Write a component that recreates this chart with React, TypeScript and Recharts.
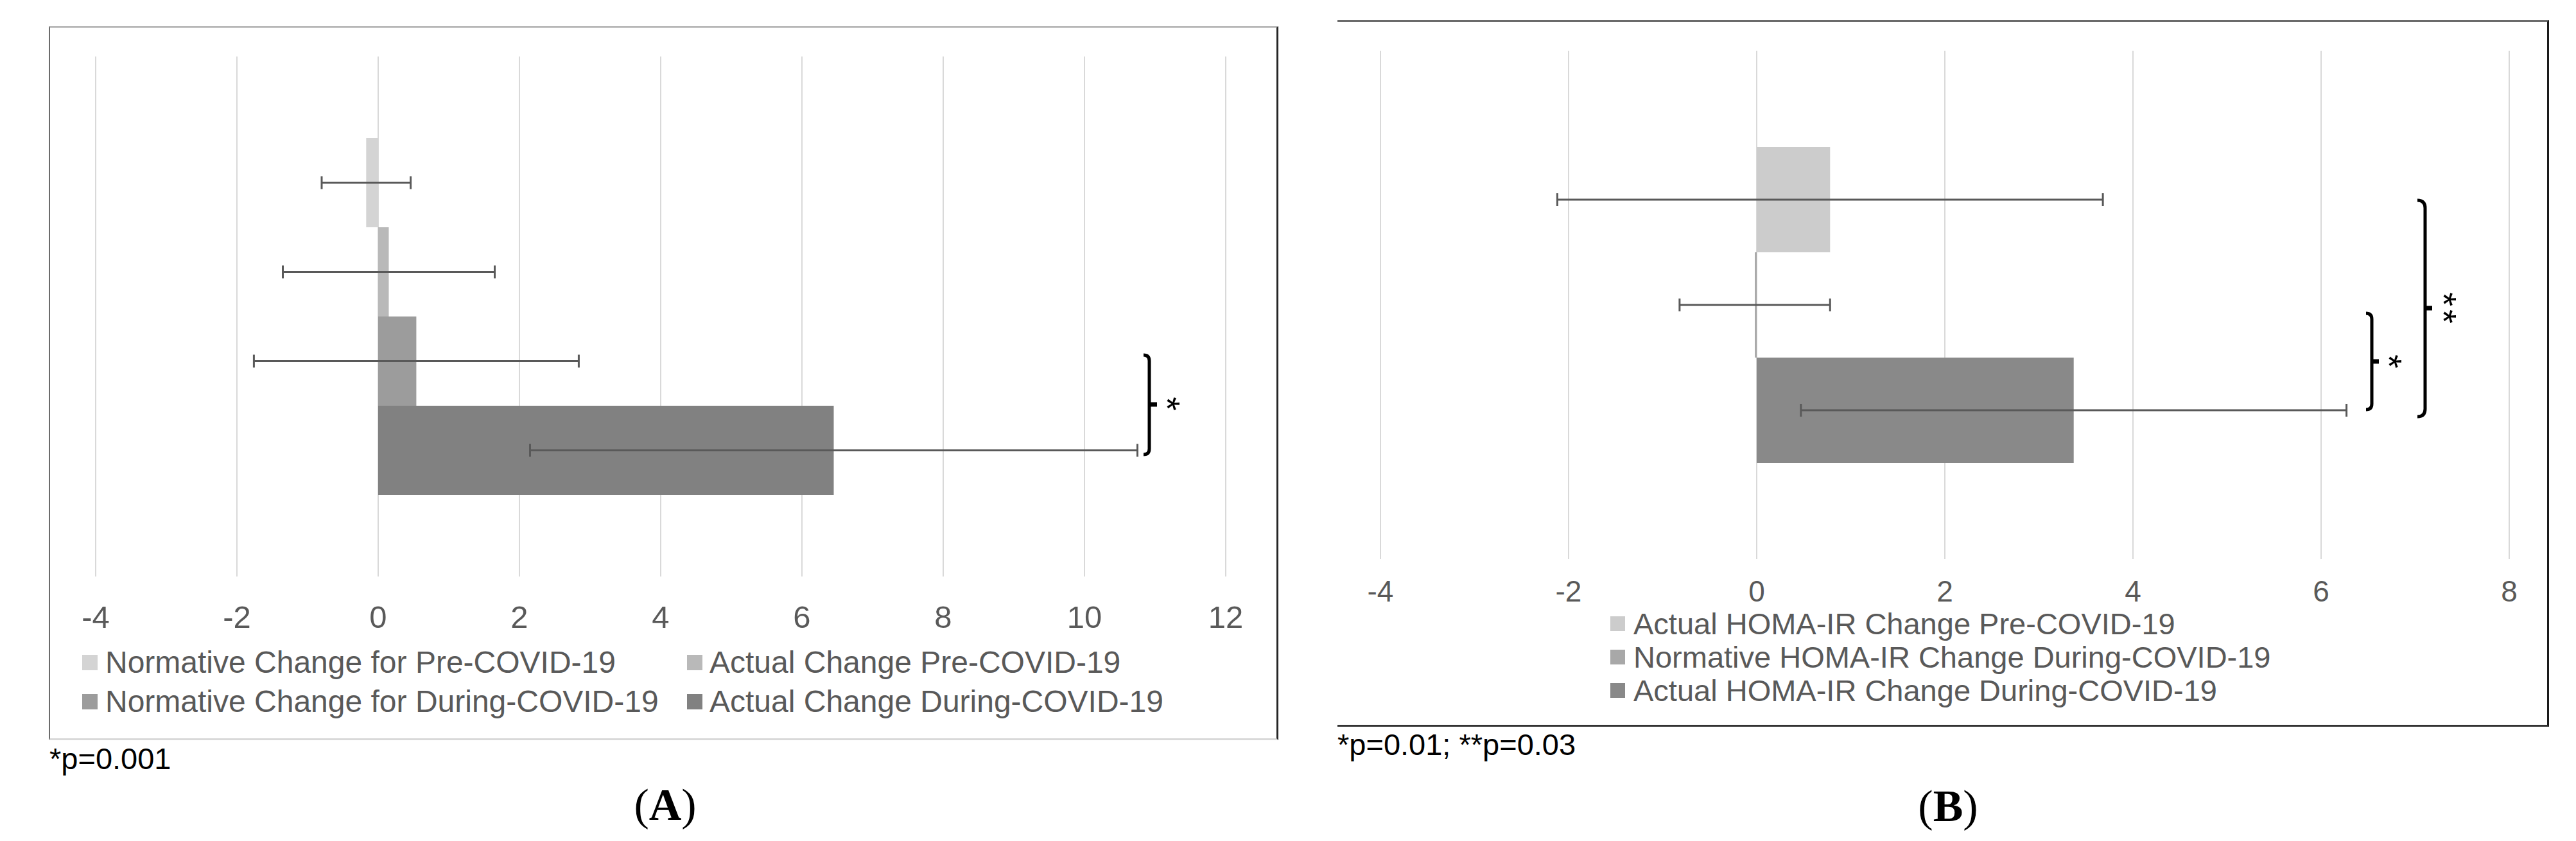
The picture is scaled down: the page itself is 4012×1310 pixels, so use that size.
import React from 'react';
import { BarChart, Bar, XAxis, YAxis, CartesianGrid, ErrorBar, Legend } from 'recharts';

// ---------------- data ----------------
const A_SERIES = [
  'Normative Change for Pre-COVID-19',
  'Actual Change Pre-COVID-19',
  'Normative Change for During-COVID-19',
  'Actual Change During-COVID-19',
];
const A_VALUES = [-0.17, 0.15, 0.54, 6.45];
const A_SD = [0.63, 1.5, 2.3, 4.3];
const A_COLORS = ['#d4d4d4', '#b9b9b9', '#9c9c9c', '#818181'];
const A_TICKS = [-4, -2, 0, 2, 4, 6, 8, 10, 12];

const B_SERIES = [
  'Actual HOMA-IR Change Pre-COVID-19',
  'Normative HOMA-IR Change During-COVID-19',
  'Actual HOMA-IR Change During-COVID-19',
];
const B_VALUES = [0.78, -0.02, 3.37];
const B_SD = [2.9, 0.8, 2.9];
const B_COLORS = ['#cccccc', '#a8a8a8', '#898989'];
const B_TICKS = [-4, -2, 0, 2, 4, 6, 8];

const FOOT_A = '*p=0.001';
const FOOT_B = '*p=0.01; **p=0.03';

// ---------------- styles ----------------
const SANS = '"Liberation Sans", Arial, Helvetica, sans-serif';
const SERIF = '"Liberation Serif", "Times New Roman", serif';
const TEXT_GRAY = '#595959';
const GRID = '#d9d9d9';
const ERR = '#595959';

function buildRow(name: string, values: number[], sds: number[]) {
  const row: Record<string, any> = { name };
  values.forEach((v, i) => {
    row[`v${i}`] = v;
    row[`e${i}`] = sds[i];
  });
  return [row];
}

const dataA = buildRow('A', A_VALUES, A_SD);
const dataB = buildRow('B', B_VALUES, B_SD);

type LegendPos = { mx: number; tx: number; cy: number };

function makeLegend(names: string[], positions: LegendPos[], fontSize: number, marker: number) {
  return (props: any) => {
    const payload = props.payload || [];
    return (
      <div style={{ position: 'relative', width: '100%', height: '100%' }}>
        {payload.map((p: any) => {
          const idx = names.indexOf(p.value);
          const pos = positions[idx];
          if (!pos) return null;
          return (
            <React.Fragment key={p.value}>
              <div
                style={{
                  position: 'absolute',
                  left: pos.mx,
                  top: pos.cy - marker / 2,
                  width: marker,
                  height: marker,
                  background: p.color,
                }}
              />
              <div
                style={{
                  position: 'absolute',
                  left: pos.tx,
                  top: pos.cy - fontSize / 2,
                  lineHeight: `${fontSize}px`,
                  fontSize,
                  fontFamily: SANS,
                  color: TEXT_GRAY,
                  whiteSpace: 'nowrap',
                }}
              >
                {p.value}
              </div>
            </React.Fragment>
          );
        })}
      </div>
    );
  };
}

const LEGEND_A: LegendPos[] = [
  { mx: 128, tx: 164, cy: 1032 },
  { mx: 1070, tx: 1105, cy: 1032 },
  { mx: 128, tx: 164, cy: 1093 },
  { mx: 1070, tx: 1105, cy: 1093 },
];
// chart B is placed at left 2050
const LEGEND_B: LegendPos[] = [
  { mx: 458, tx: 494, cy: 971 },
  { mx: 458, tx: 494, cy: 1023 },
  { mx: 458, tx: 494, cy: 1075 },
];

function ChartA() {
  const W = 2000;
  const H = 1150;
  return (
    <BarChart
      width={W}
      height={H}
      layout="vertical"
      data={dataA}
      margin={{ top: 88, right: 91, left: 149, bottom: 152 }}
      barGap={0}
      style={{ position: 'absolute', left: 0, top: 0 }}
    >
      <CartesianGrid horizontal={false} stroke={GRID} strokeWidth={2} />
      <XAxis
        type="number"
        domain={[-4, 12]}
        ticks={A_TICKS}
        interval={0}
        allowDataOverflow
        axisLine={false}
        tickLine={false}
        tickSize={0}
        tickMargin={45}
        height={100}
        tick={{ fill: TEXT_GRAY, fontSize: 49, fontFamily: SANS }}
      />
      <YAxis type="category" dataKey="name" hide />
      {A_SERIES.map((s, i) => (
        <Bar key={s} dataKey={`v${i}`} name={s} fill={A_COLORS[i]} barSize={139} isAnimationActive={false}>
          <ErrorBar dataKey={`e${i}`} direction="x" width={10} stroke={ERR} strokeWidth={3} />
        </Bar>
      ))}
      <Legend
        layout="horizontal"
        align="center"
        verticalAlign="middle"
        wrapperStyle={{ left: 0, top: 0, width: W, height: H, pointerEvents: 'none' }}
        content={makeLegend(A_SERIES, LEGEND_A, 48, 24)}
      />
    </BarChart>
  );
}

function ChartB() {
  const W = 1962;
  const H = 1128;
  return (
    <BarChart
      width={W}
      height={H}
      layout="vertical"
      data={dataB}
      margin={{ top: 79, right: 104, left: 100, bottom: 157 }}
      barGap={0}
      style={{ position: 'absolute', left: 2050, top: 0 }}
    >
      <CartesianGrid horizontal={false} stroke={GRID} strokeWidth={2} />
      <XAxis
        type="number"
        domain={[-4, 8]}
        ticks={B_TICKS}
        interval={0}
        allowDataOverflow
        axisLine={false}
        tickLine={false}
        tickSize={0}
        tickMargin={33}
        height={100}
        tick={{ fill: TEXT_GRAY, fontSize: 46, fontFamily: SANS }}
      />
      <YAxis type="category" dataKey="name" hide />
      {B_SERIES.map((s, i) => (
        <Bar key={s} dataKey={`v${i}`} name={s} fill={B_COLORS[i]} barSize={164} isAnimationActive={false}>
          <ErrorBar dataKey={`e${i}`} direction="x" width={10} stroke={ERR} strokeWidth={3} />
        </Bar>
      ))}
      <Legend
        layout="horizontal"
        align="center"
        verticalAlign="middle"
        wrapperStyle={{ left: 0, top: 0, width: W, height: H, pointerEvents: 'none' }}
        content={makeLegend(B_SERIES, LEGEND_B, 47, 23)}
      />
    </BarChart>
  );
}

function bracketPath(x: number, y1: number, y2: number, hook: number) {
  return `M ${x - hook} ${y1} Q ${x} ${y1} ${x} ${y1 + hook} L ${x} ${y2 - hook} Q ${x} ${y2} ${x - hook} ${y2}`;
}

function Bracket({ x, y1, y2, ym, hook, nub }: { x: number; y1: number; y2: number; ym: number; hook: number; nub: number }) {
  return (
    <g>
      <path d={bracketPath(x, y1, y2, hook)} fill="none" stroke="#000" strokeWidth={5} />
      <line x1={x} y1={ym} x2={x + nub} y2={ym} stroke="#000" strokeWidth={7} />
    </g>
  );
}

// asterisk(s) rotated 90deg like the reference; cx, cy = visual centre
function Stars({ cx, cy, text }: { cx: number; cy: number; text: string }) {
  const fs = 56;
  const bx = cx - 0.575 * fs; // baseline (rotated) so glyph centre lands on cx
  return (
    <text
      x={bx}
      y={cy}
      transform={`rotate(90, ${bx}, ${cy})`}
      textAnchor="middle"
      fontFamily={SANS}
      fontSize={fs}
      letterSpacing={text.length > 1 ? 5 : 0}
      fill="#000"
    >
      {text}
    </text>
  );
}

function Annotations() {
  return (
    <svg
      width={4012}
      height={1310}
      style={{ position: 'absolute', left: 0, top: 0, pointerEvents: 'none' }}
    >
      <Bracket x={1790} y1={553} y2={708} ym={630} hook={9} nub={12} />
      <Stars cx={1831} cy={629} text="*" />
      <Bracket x={3694} y1={488} y2={638} ym={563} hook={9} nub={11} />
      <Stars cx={3734} cy={563} text="*" />
      <Bracket x={3777} y1={312} y2={649} ym={480} hook={12} nub={11} />
      <Stars cx={3819} cy={482} text="**" />
    </svg>
  );
}

export default function App() {
  return (
    <div
      style={{
        position: 'absolute',
        left: 0,
        top: 0,
        width: 4012,
        height: 1310,
        background: '#fff',
        overflow: 'hidden',
      }}
    >
      {/* frame A */}
      <div
        style={{
          position: 'absolute',
          left: 76,
          top: 41,
          width: 1910,
          height: 1107,
          borderTop: '2px solid #a3a3a3',
          borderLeft: '2px solid #6b6b6b',
          borderRight: '3px solid #262626',
          borderBottom: '3px solid #d9d9d9',
        }}
      />
      {/* frame B */}
      <div
        style={{
          position: 'absolute',
          left: 2083,
          top: 31,
          width: 1884,
          height: 1095,
          borderTop: '3px solid #6b6b6b',
          borderRight: '3px solid #1a1a1a',
          borderBottom: '3px solid #333333',
        }}
      />
      <ChartA />
      <ChartB />
      <Annotations />
      <div
        style={{
          position: 'absolute',
          left: 77,
          top: 1181 - 23,
          fontSize: 47,
          lineHeight: '47px',
          fontFamily: SANS,
          color: '#000',
          whiteSpace: 'nowrap',
        }}
      >
        {FOOT_A}
      </div>
      <div
        style={{
          position: 'absolute',
          left: 2083,
          top: 1159 - 23,
          fontSize: 47,
          lineHeight: '47px',
          fontFamily: SANS,
          color: '#000',
          whiteSpace: 'nowrap',
        }}
      >
        {FOOT_B}
      </div>
      <div
        style={{
          position: 'absolute',
          left: 1036 - 150,
          width: 300,
          top: 1254 - 35,
          fontSize: 70,
          lineHeight: '70px',
          fontFamily: SERIF,
          textAlign: 'center',
          color: '#000',
        }}
      >
        (<b>A</b>)
      </div>
      <div
        style={{
          position: 'absolute',
          left: 3034 - 150,
          width: 300,
          top: 1256 - 35,
          fontSize: 70,
          lineHeight: '70px',
          fontFamily: SERIF,
          textAlign: 'center',
          color: '#000',
        }}
      >
        (<b>B</b>)
      </div>
    </div>
  );
}
